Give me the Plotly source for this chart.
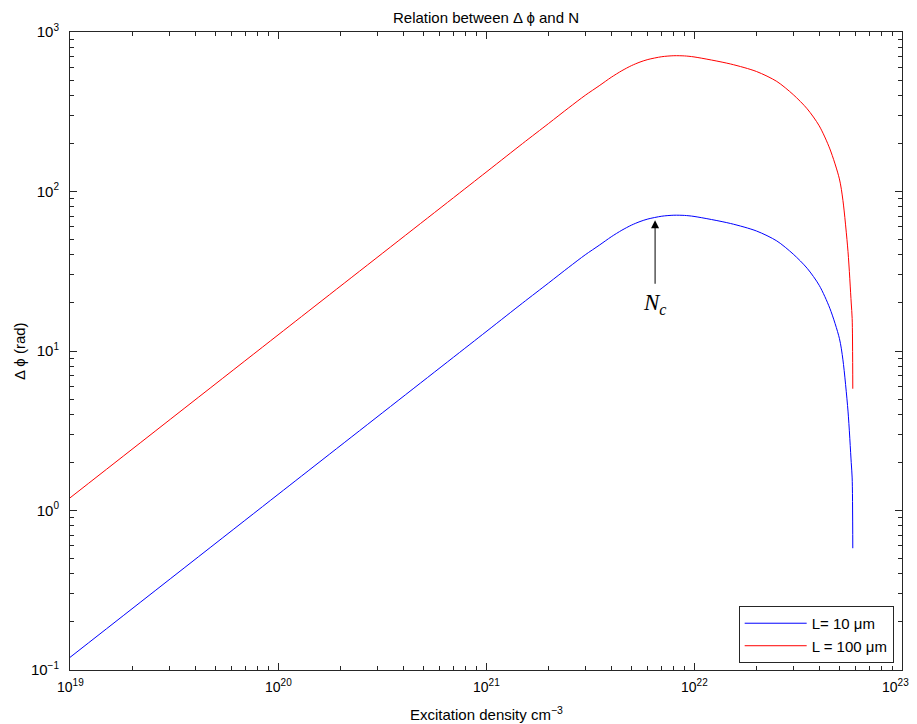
import math
import plotly.graph_objects as go

# Excitation density (cm^-3)
N = [1e19, 1e20, 1e21, 1.5e21, 2e21, 2.5e21, 3e21, 3.5e21, 4e21, 4.5e21, 5e21, 5.5e21,
     6e21, 7e21, 8e21, 9e21, 1e22, 1.5e22, 2e22, 2.5e22, 3e22, 3.5e22, 4e22, 4.5e22,
     5e22, 5.2e22, 5.5e22, 5.7e22, 5.76e22, 5.8e22]

# Phase change (rad) for L = 100 um
phi_100 = [1.2, 12.6, 132, 200, 267, 335, 401, 460, 520, 572, 615, 648,
           672, 700, 710, 708, 698, 630, 565, 490, 405, 330, 258, 185,
           120, 88, 42, 20, 16, 5.8]

# Phase change (rad) for L = 10 um
phi_10 = [0.12, 1.26, 13.2, 20.0, 26.7, 33.5, 40.1, 46.0, 52.0, 57.2, 61.5, 64.8,
          67.2, 70.0, 71.0, 70.8, 69.8, 63.0, 56.5, 49.0, 40.5, 33.0, 25.8, 18.5,
          12.0, 8.8, 4.2, 2.0, 1.6, 0.58]

x_major = [1e19, 1e20, 1e21, 1e22, 1e23]
x_exp = ["19", "20", "21", "22", "23"]
y_major = [0.1, 1, 10, 100, 1000]
y_exp = ["\u22121", "0", "1", "2", "3"]

Nc_x = 6.5e21
Nc_head = 66

FONT = "Liberation Sans, Arial, sans-serif"
AX = "#262626"


def minors(majors):
    out = []
    for m in majors[:-1]:
        out += [m * k for k in range(2, 10)]
    return out


def pow_label(e):
    return "10<sup><span style='font-size:10px'>%s</span></sup>" % e


fig = go.Figure()
fig.add_trace(go.Scatter(x=N, y=phi_10, mode="lines", name="L= 10 \u03bcm",
                         line=dict(color="#0000ff", width=1, shape="spline", smoothing=0.8)))
fig.add_trace(go.Scatter(x=N, y=phi_100, mode="lines", name="L = 100 \u03bcm",
                         line=dict(color="#ff0000", width=1, shape="spline", smoothing=0.8)))

axis_common = dict(
    type="log", showgrid=False, zeroline=False, showline=True, linecolor=AX, linewidth=1,
    mirror="ticks", ticks="inside", ticklen=7, tickcolor=AX, tickwidth=1,
    tickmode="array", automargin=False,
    tickfont=dict(family=FONT, size=15, color="#000"),
)

fig.update_xaxes(range=[19, 23], tickvals=x_major, showticklabels=False,
                 minor=dict(ticks="inside", ticklen=4, tickcolor=AX, tickwidth=1,
                            tickmode="array", tickvals=minors(x_major), showgrid=False),
                 **axis_common)
fig.update_yaxes(range=[-1, 3], tickvals=y_major, ticktext=[pow_label(e) for e in y_exp],
                 ticklabelstandoff=7,
                 minor=dict(ticks="inside", ticklen=4, tickcolor=AX, tickwidth=1,
                            tickmode="array", tickvals=minors(y_major), showgrid=False),
                 **axis_common)

# x tick labels (centred on their ticks, exponent included; last one nudged inside the page)
for i, (v, e) in enumerate(zip(x_major, x_exp)):
    fig.add_annotation(x=math.log10(v), y=0, xref="x", yref="paper", yshift=-16,
                       xshift=(-7 if i == len(x_major) - 1 else 0),
                       text=pow_label(e), showarrow=False, xanchor="center", yanchor="middle",
                       font=dict(family=FONT, size=14, color="#000"))

# axis titles
fig.add_annotation(x=0.5, y=0, xref="paper", yref="paper", yshift=-43,
                   text="Excitation density cm<sup>\u22123</sup>", showarrow=False,
                   xanchor="center", yanchor="middle",
                   font=dict(family=FONT, size=15, color="#000"))
fig.add_annotation(x=0, y=0.5, xref="paper", yref="paper", xshift=-51,
                   text="\u0394 \u03d5 (rad)", showarrow=False, textangle=-90,
                   xanchor="center", yanchor="middle",
                   font=dict(family=FONT, size=15, color="#000"))

# N_c marker
fig.add_annotation(x=math.log10(Nc_x), y=math.log10(Nc_head), xref="x", yref="y", text="",
                   showarrow=True, ax=0, ay=65, arrowhead=2, arrowsize=1.6, arrowwidth=1,
                   arrowcolor="#000")
fig.add_annotation(x=math.log10(Nc_x), y=math.log10(Nc_head), xref="x", yref="y", yshift=-84,
                   text="<i>N</i><sub><i>c</i></sub>", showarrow=False,
                   font=dict(family="Liberation Serif, DejaVu Serif, serif", size=23, color="#000"))

# The page body has an 8px default margin; the figure is sized and offset to compensate.
fig.update_layout(
    width=909, height=716,
    margin=dict(l=62, r=15, t=24, b=54, autoexpand=False),
    paper_bgcolor="white", plot_bgcolor="white",
    title=dict(text="Relation between \u0394 \u03d5 and N", x=(62 + 894) / 2 / 909, xanchor="center",
               y=1 - 9.5 / 716, yanchor="middle",
               font=dict(family=FONT, size=15, color="#000")),
    legend=dict(x=0.99, xanchor="right", y=0.011, yanchor="bottom",
                bgcolor="white", bordercolor=AX, borderwidth=1, itemwidth=62,
                font=dict(family=FONT, size=15, color="#000"), tracegroupgap=0),
    showlegend=True,
)

fig.write_html("out.html")
